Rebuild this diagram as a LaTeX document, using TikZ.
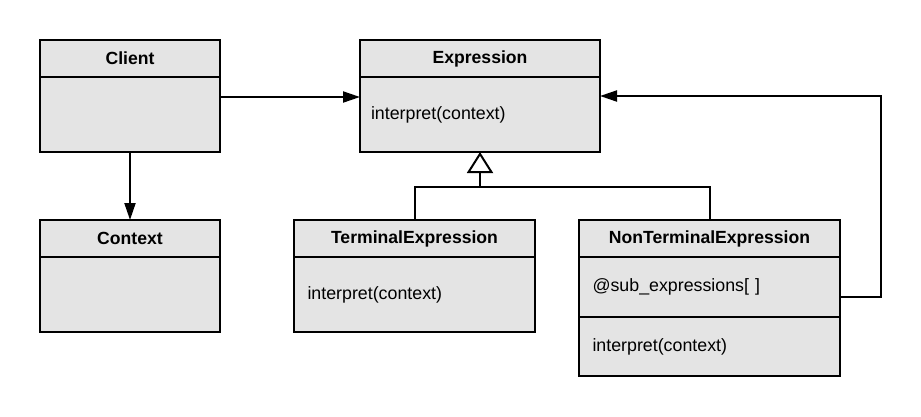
\documentclass[tikz,border=0pt]{standalone}
\usepackage{fontspec}
\setmainfont{Liberation Sans}
\usepackage{xcolor}
\usetikzlibrary{arrows.meta,positioning}
\definecolor{classfill}{HTML}{E4E4E4}

\begin{document}
\begin{tikzpicture}[x=1pt,y=-1pt,
  font=\fontsize{17.8}{21}\selectfont,
  compart/.style={draw,rectangle,fill=classfill,line width=2pt,inner sep=0pt,outer sep=0pt},
  classhead/.style={compart,minimum height=37pt,font=\fontsize{17.6}{21}\selectfont\bfseries},
  classbody/.style={compart,minimum height=75pt,align=left},
  assoc/.style={-{Triangle[length=17pt,width=11pt]},line width=2pt},
  inherit/.style={-{Triangle[open,length=21pt,width=26pt]},line width=2pt},
  link/.style={line width=2pt}
]
\useasboundingbox (0,0) rectangle (921,416);

% Top row
\node[classhead,minimum width=180pt,anchor=north west] (client) at (40,40) {Client};
\node[classbody,minimum width=180pt,below=0pt of client] (clientbody) {};
\node[classhead,minimum width=240pt,right=140pt of client] (expr) {Expression};
\node[classbody,minimum width=240pt,text width=218pt,below=0pt of expr] (exprbody) {interpret(context)};

% Bottom row
\node[classhead,minimum width=180pt,below=68pt of clientbody] (context) {Context};
\node[classbody,minimum width=180pt,below=0pt of context] (contextbody) {};
\node[classhead,minimum width=241pt,right=74pt of context] (terminal) {TerminalExpression};
\node[classbody,minimum width=241pt,text width=214pt,below=0pt of terminal] (terminalbody) {interpret(context)};
\node[classhead,minimum width=261pt,right=44pt of terminal] (nonterm) {NonTerminalExpression};
\node[classbody,minimum width=261pt,text width=234pt,minimum height=60pt,below=0pt of nonterm] (nontermattr) {@sub\_expressions[ ]};
\node[classbody,minimum width=261pt,text width=234pt,minimum height=59pt,below=0pt of nontermattr] (nontermops) {interpret(context)};

% Associations
\draw[assoc] ([yshift=-20pt]clientbody.north east) -- ([yshift=-20pt]exprbody.north west);
\draw[assoc] (clientbody) -- (context);
\draw[assoc] ([yshift=-10pt]nontermattr.east) -- ++(41pt,0) |- ([yshift=-19pt]exprbody.north east);

% Generalization
\coordinate[below=35pt of exprbody.south] (joint);
\draw[link] (terminal.north) |- (joint);
\draw[link] (nonterm.north) |- (joint);
\draw[inherit] (joint) -- (exprbody.south);

\end{tikzpicture}
\end{document}
